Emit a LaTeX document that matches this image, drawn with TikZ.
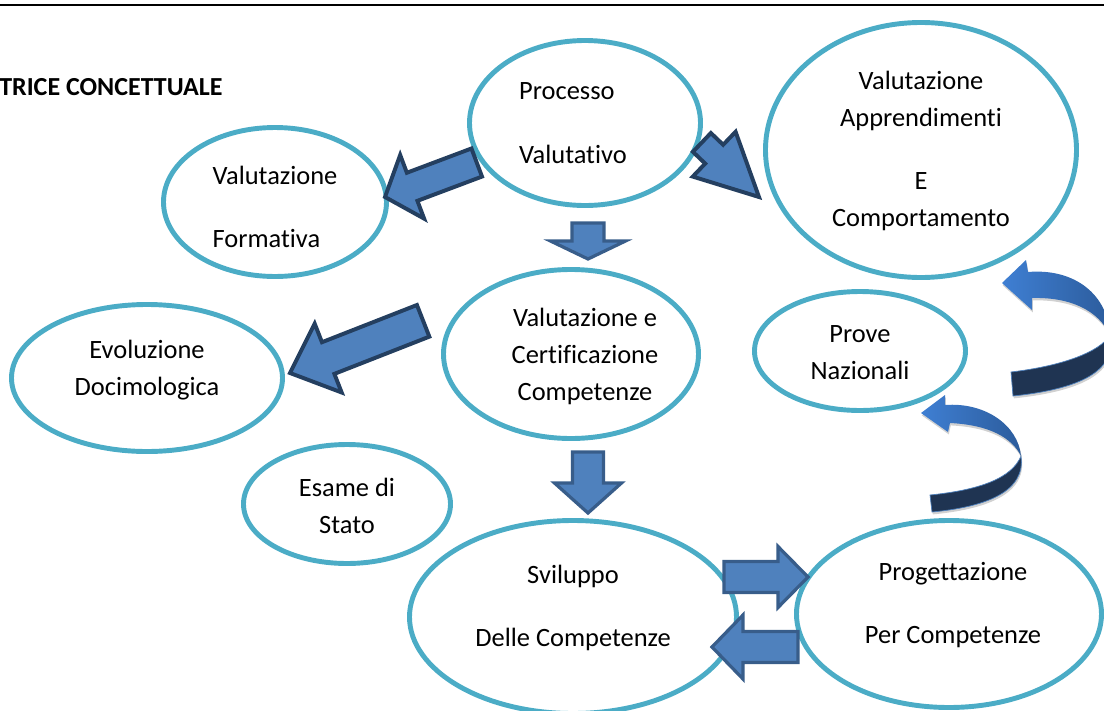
\documentclass[tikz,border=0pt]{standalone}
\usepackage{fontspec}
\setmainfont{Carlito}[Ligatures={NoCommon}]
\usetikzlibrary{shapes.geometric,shadows}

\definecolor{bordo}{HTML}{4BACC6}
\definecolor{blu}{HTML}{4F81BD}
\definecolor{bluscuro}{HTML}{385D8A}
\definecolor{blunotte}{HTML}{243F60}
\definecolor{nastro}{HTML}{1F3452}
\definecolor{nastrochiaro}{HTML}{3F7FD3}
\definecolor{nastromedio}{HTML}{2C5C9C}

% block arrow: style, tip, angle, length, shaft half width, head half width, head length
\newcommand{\freccia}[7]{%
  \begin{scope}[shift={#2},rotate=#3]
    \draw[#1] (0,0) -- (-#7,#6) -- (-#7,#5) -- (-#4,#5) -- (-#4,-#5) -- (-#7,-#5) -- (-#7,-#6) -- cycle;
  \end{scope}}

\tikzset{
  bubble/.style={ellipse, draw=bordo, line width=3.5pt, inner sep=0pt},
  testo/.style={font=\fontsize{18.8}{26.3}\selectfont, inner sep=0pt},
  frecciascura/.style={fill=blu, draw=blunotte, line width=2.8pt},
  frecciachiara/.style={fill=blu, draw=bluscuro, line width=2.3pt},
  fronte/.style={left color=nastrochiaro, right color=nastromedio,
    drop shadow={shadow xshift=0.2mm, shadow yshift=-0.6mm, fill=black!30, opacity=0.6}},
  retro/.style={fill=nastro, draw=blu, line width=0.5pt,
    drop shadow={shadow xshift=0.2mm, shadow yshift=-0.6mm, fill=black!30, opacity=0.6}},
}

\begin{document}
\begin{tikzpicture}[x=0.25mm,y=0.25mm]
\useasboundingbox (0,0) rectangle (1104,-711);
\clip (0,0) rectangle (1104,-711);

% top rule and heading
\draw[line width=1.5pt] (0,-5) -- (1104,-5);
\node[anchor=west, inner sep=0pt, font=\bfseries\fontsize{18.5}{21}\selectfont] (titolo) at (-1,-87) {TRICE CONCETTUALE};

% bubbles
\node[bubble, minimum width=57.75mm, minimum height=41.25mm] (pv) at (585,-123) {};
\node[bubble, minimum width=55.75mm, minimum height=37.25mm] (vf) at (275,-202) {};
\node[bubble, minimum width=77.75mm, minimum height=63.75mm] (va) at (921,-150) {};
\node[bubble, minimum width=63.75mm, minimum height=42.25mm] (vc) at (571,-354) {};
\node[bubble, minimum width=67.75mm, minimum height=36.75mm] (ed) at (147,-378) {};
\node[bubble, minimum width=51.75mm, minimum height=29.75mm] (es) at (347,-504) {};
\node[bubble, minimum width=52.75mm, minimum height=29.75mm] (pn) at (860,-351) {};
\node[bubble, minimum width=81.75mm, minimum height=48.25mm] (sc) at (573,-617) {};
\node[bubble, minimum width=76.25mm, minimum height=46.75mm] (pc) at (949,-614) {};

% texts
\node[testo, align=left] (pv-t) at (573,-123) {Processo\\[19pt]Valutativo};
\node[testo, align=left] (vf-t) at (275,-207) {Valutazione\\[19pt]Formativa};
\node[testo, align=center] (va-t) at (921,-151) {Valutazione\\Apprendimenti\\[19pt]E\\Comportamento};
\node[testo, align=center] (vc-t) at (585,-356) {Valutazione e\\Certificazione\\Competenze};
\node[testo, align=center] (ed-t) at (147,-370) {Evoluzione\\Docimologica};
\node[testo, align=center] (es-t) at (347,-506) {Esame di\\Stato};
\node[testo, align=center] (pn-t) at (860,-353) {Prove\\Nazionali};
\node[testo, align=center] (sc-t) at (573,-608) {Sviluppo\\[19pt]Delle Competenze};
\node[testo, align=center] (pc-t) at (953,-605) {Progettazione\\[19pt]Per Competenze};

% block arrows
\freccia{frecciascura}{(385,-197)}{200.6}{98}{15}{34}{29}
\freccia{frecciascura}{(759,-197)}{-43.7}{79}{13}{31}{62}
\freccia{frecciascura}{(290,-373)}{201.4}{143}{17}{37}{41}
\freccia{frecciachiara}{(588,-259)}{-90}{36}{16}{37.5}{18}
\freccia{frecciachiara}{(588,-513)}{-90}{61}{15.5}{33.5}{30}
\freccia{frecciachiara}{(808,-577)}{0}{84}{15.5}{30.5}{30}
\freccia{frecciachiara}{(712,-647)}{180}{86}{15.5}{32}{31}

% curved ribbons on the right
\path[retro] (1110,-335) .. controls (1118,-375) and (1070,-390) .. (1013,-396)
  -- (1011,-372) .. controls (1062,-366) and (1100,-352) .. (1110,-335) -- cycle;
\path[fronte] (1028,-272) .. controls (1075,-268) and (1108,-295) .. (1110,-335)
  .. controls (1098,-310) and (1070,-297) .. (1032,-298)
  -- (1032,-310) -- (1002,-283) -- (1026,-260) -- cycle;
\path[retro] (1021,-456) .. controls (1026,-492) and (985,-507) .. (932,-512)
  -- (930,-495) .. controls (980,-490) and (1012,-478) .. (1021,-456) -- cycle;
\path[fronte] (945,-405) .. controls (985,-402) and (1018,-425) .. (1021,-456)
  .. controls (1012,-438) and (990,-425) .. (950,-423)
  -- (948,-432) -- (921,-413) -- (945,-395) -- cycle;
\end{tikzpicture}
\end{document}
